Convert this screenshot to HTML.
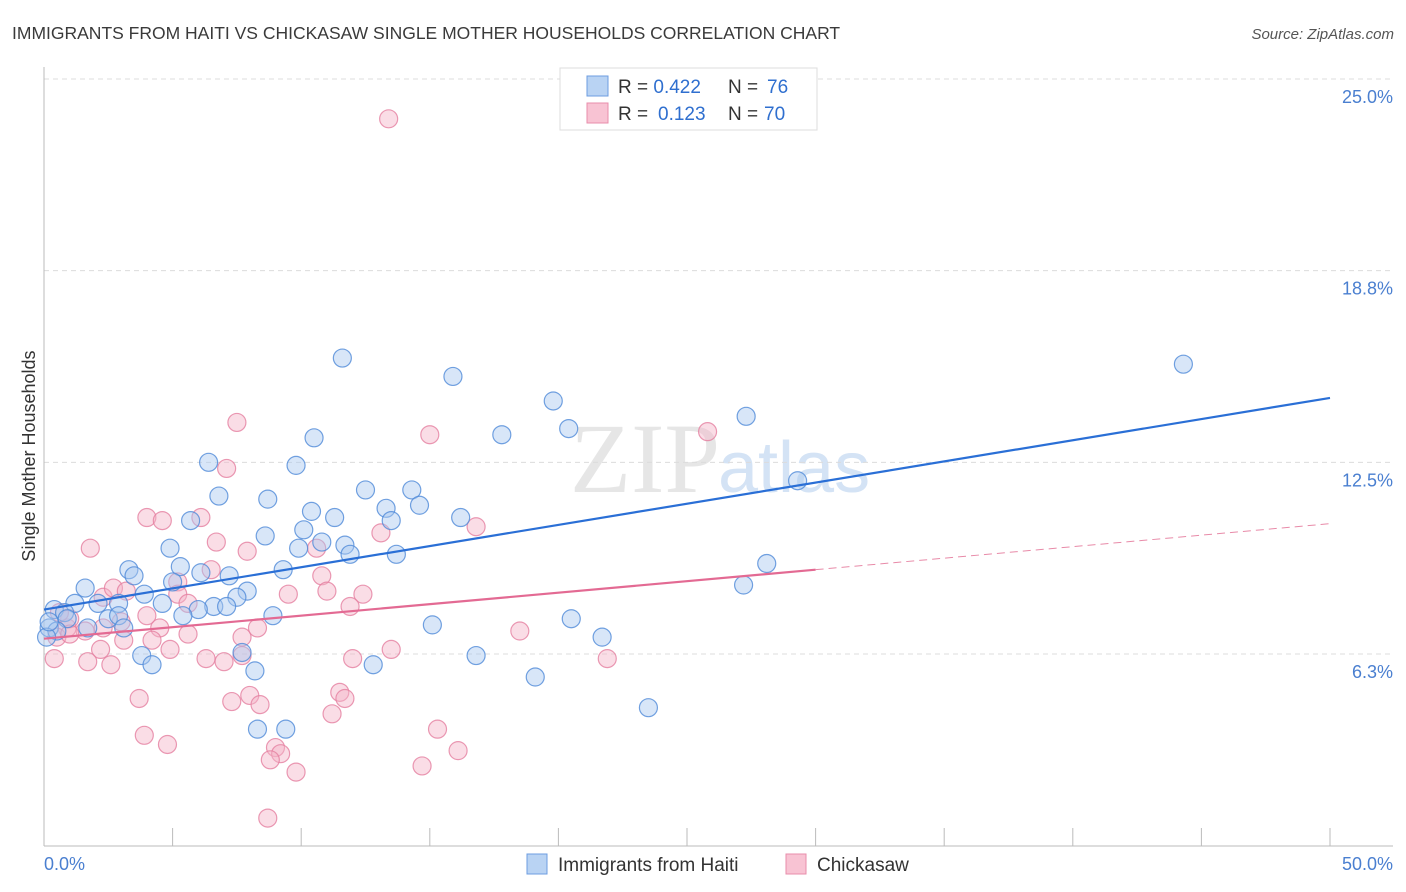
<!DOCTYPE html>
<html><head><meta charset="utf-8"><style>
body{margin:0;background:#fff;font-family:"Liberation Sans",sans-serif;}
svg{display:block}
</style></head><body>
<svg id="chart" width="1406" height="892" viewBox="0 0 1406 892">
<text x="12" y="39" font-size="17.5" fill="#3a3a3a">IMMIGRANTS FROM HAITI VS CHICKASAW SINGLE MOTHER HOUSEHOLDS CORRELATION CHART</text>
<text x="1394" y="39" font-size="15" fill="#555" font-style="italic" text-anchor="end">Source: ZipAtlas.com</text>
<text x="720" y="492" font-size="100" fill="#e6e6e6" text-anchor="end" font-family="Liberation Serif,serif">ZIP</text>
<text x="718" y="492" font-size="72" fill="#d4e3f5">atlas</text>
<g id="grid"></g><g id="axes"></g><g id="pts"></g><g id="trend"></g>
<text x="35" y="456" font-size="18" fill="#333" text-anchor="middle" transform="rotate(-90 35 456)">Single Mother Households</text>
<g>
<rect x="560" y="68" width="257" height="62" fill="#fff" stroke="#ddd"/>
<rect x="587" y="76" width="21" height="20" fill="#b9d3f3" stroke="#6d9ce0"/>
<rect x="587" y="103" width="21" height="20" fill="#f8c3d3" stroke="#e88eab"/>
<text x="618" y="93" font-size="19" fill="#333">R = <tspan fill="#2f6fcf">0.422</tspan><tspan x="728">N = </tspan><tspan fill="#2f6fcf" x="767">76</tspan></text>
<text x="618" y="120" font-size="19" fill="#333">R = <tspan fill="#2f6fcf" x="658">0.123</tspan><tspan x="728">N = </tspan><tspan fill="#2f6fcf" x="764">70</tspan></text>
</g>
<g>
<rect x="527" y="854" width="20" height="20" fill="#b9d3f3" stroke="#6d9ce0"/>
<text x="558" y="871" font-size="19" fill="#333">Immigrants from Haiti</text>
<rect x="786" y="854" width="20" height="20" fill="#f8c3d3" stroke="#e88eab"/>
<text x="817" y="871" font-size="19" fill="#333">Chickasaw</text>
</g>
</svg>
<script>
const haitiX=[44.3,11.6,15.9,19.8,27.3,20.4,17.8,10.5,6.4,9.8,29.3,12.5,6.8,14.3,8.7,14.6,13.3,10.4,16.2,11.3,13.5,5.7,10.1,8.6,9.9,10.8,11.7,4.9,11.9,13.7,3.3,5.3,28.1,3.5,7.2,6.1,9.3,1.6,5.0,7.9,27.2,3.9,1.2,7.5,2.1,2.9,4.6,6.6,6.0,7.1,5.4,8.9,0.4,2.5,2.9,0.8,0.9,1.7,3.1,20.5,15.1,21.7,0.2,0.5,0.1,7.7,3.8,4.2,12.8,16.8,8.2,19.1,23.5,8.3,9.4,0.2];
const haitiY=[15.7,15.9,15.3,14.5,14.0,13.6,13.4,13.3,12.5,12.4,11.9,11.6,11.4,11.6,11.3,11.1,11.0,10.9,10.7,10.7,10.6,10.6,10.3,10.1,9.7,9.9,9.8,9.7,9.5,9.5,9.0,9.1,9.2,8.8,8.8,8.9,9.0,8.4,8.6,8.3,8.5,8.2,7.9,8.1,7.9,7.9,7.9,7.8,7.7,7.8,7.5,7.5,7.7,7.4,7.5,7.6,7.4,7.1,7.1,7.4,7.2,6.8,7.1,7.0,6.8,6.3,6.2,5.9,5.9,6.2,5.7,5.5,4.5,3.8,3.8,7.3];
const chickX=[13.4,7.5,15.0,25.8,7.1,4.0,4.6,6.1,16.8,1.8,6.7,7.9,13.1,10.6,10.8,2.3,2.7,3.2,5.2,5.2,6.5,9.5,11.0,12.4,4.0,5.6,11.9,4.5,3.0,2.3,1.6,0.9,1.0,0.6,0.5,1.0,5.6,7.7,8.3,4.2,4.9,3.1,2.2,18.5,13.5,0.4,1.7,2.6,6.3,7.0,7.7,12.0,21.9,3.7,7.3,8.0,8.4,11.5,11.7,11.2,3.9,4.8,15.3,16.1,9.0,9.2,8.8,9.8,14.7,8.7];
const chickY=[23.7,13.8,13.4,13.5,12.3,10.7,10.6,10.7,10.4,9.7,9.9,9.6,10.2,9.7,8.8,8.1,8.4,8.3,8.6,8.2,9.0,8.2,8.3,8.2,7.5,7.9,7.8,7.1,7.3,7.1,7.0,7.1,7.4,7.6,6.8,6.9,6.9,6.8,7.1,6.7,6.4,6.7,6.4,7.0,6.4,6.1,6.0,5.9,6.1,6.0,6.2,6.1,6.1,4.8,4.7,4.9,4.6,5.0,4.8,4.3,3.6,3.3,3.8,3.1,3.2,3.0,2.8,2.4,2.6,0.9];
const yTicks=[6.25,12.5,18.75,25];
const yTickLabels=["6.3%","12.5%","18.8%","25.0%"];
const xTicks=[0,5,10,15,20,25,30,35,40,45,50];
const xEndLabels=["0.0%","50.0%"];
const haitiTrend=[7.7,14.6];
const chickTrend=[6.75,10.5];
const chickSolidEnd=30;

const NS="http://www.w3.org/2000/svg";
const sx=v=>44+v*25.72;
const sy=v=>845.7-v*30.67;
function mk(tag,attrs,parent){const e=document.createElementNS(NS,tag);for(const k in attrs)e.setAttribute(k,attrs[k]);parent.appendChild(e);return e;}
const grid=document.getElementById('grid'),axes=document.getElementById('axes'),pts=document.getElementById('pts'),trend=document.getElementById('trend');
yTicks.forEach((t,i)=>{
  const l=mk('line',{x1:44,x2:1393,y1:sy(t),y2:sy(t),stroke:'#dcdcdc','stroke-dasharray':'5,4'},grid);
  
  
  const tx=mk('text',{x:1393,y:sy(t)+24,'font-size':18,fill:'#4a7fd0','text-anchor':'end'},grid);
  tx.textContent=yTickLabels[i];
  
  
});
const ya=mk('line',{x1:44,x2:44,y1:67,y2:846,stroke:'#bbb'},axes);


const xa=mk('line',{x1:44,x2:1393,y1:846,y2:846,stroke:'#bbb'},axes);


xTicks.forEach(t=>{
  const l=mk('line',{x1:sx(t),x2:sx(t),y1:828,y2:846,stroke:'#bbb'},axes);
  
  
});
const xl0=mk('text',{x:44,y:870,'font-size':18,fill:'#4a7fd0'},axes);
xl0.textContent=xEndLabels[0];


const xl1=mk('text',{x:1393,y:870,'font-size':18,fill:'#4a7fd0','text-anchor':'end'},axes);
xl1.textContent=xEndLabels[1];


function dots(X,Y,fill,stroke,name){
  X.forEach((x,i)=>{
    const c=mk('circle',{cx:sx(x),cy:sy(Y[i]),r:9,fill:fill,'fill-opacity':0.45,stroke:stroke,'stroke-opacity':0.8,'stroke-width':1.2},pts);
    
    
  });
}
dots(chickX,chickY,'#f5b3c7','#e57fa0','chickasaw-point');
dots(haitiX,haitiY,'#a9c8f0','#4f89d8','haiti-point');
const hl=mk('line',{x1:sx(0),y1:sy(haitiTrend[0]),x2:sx(50),y2:sy(haitiTrend[1]),stroke:'#2a6fd6','stroke-width':2.2},trend);


const cm=chickTrend[0]+(chickTrend[1]-chickTrend[0])*chickSolidEnd/50;
const cl=mk('line',{x1:sx(0),y1:sy(chickTrend[0]),x2:sx(chickSolidEnd),y2:sy(cm),stroke:'#e36a93','stroke-width':2.2},trend);


const cd=mk('line',{x1:sx(chickSolidEnd),y1:sy(cm),x2:sx(50),y2:sy(chickTrend[1]),stroke:'#e88aa8','stroke-width':1,'stroke-dasharray':'8,5'},trend);


</script>
</body></html>
